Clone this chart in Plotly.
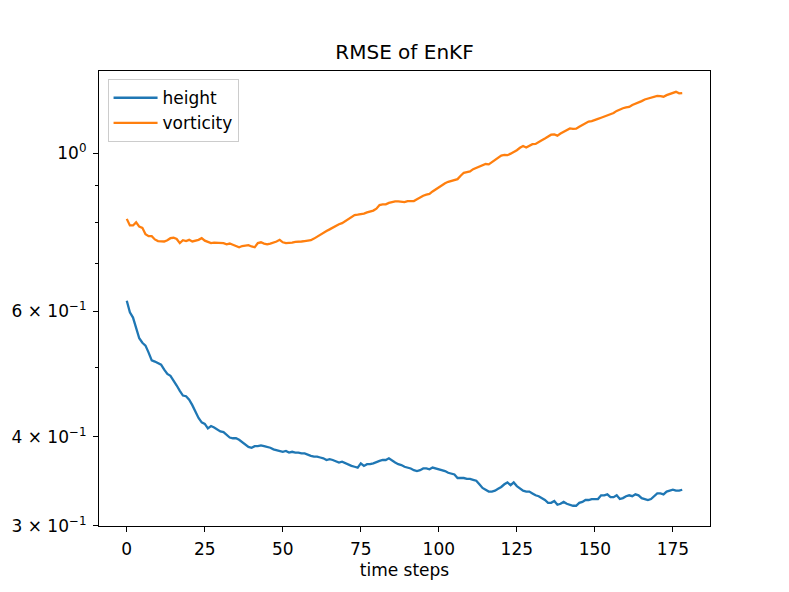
import plotly.graph_objects as go

# RMSE per time step
steps = list(range(179))

height = [
    0.621, 0.598, 0.588, 0.568, 0.550, 0.542, 0.537, 0.525, 0.512, 0.510,
    0.508, 0.505, 0.497, 0.490, 0.487, 0.480, 0.472, 0.464, 0.457, 0.456,
    0.451, 0.443, 0.434, 0.425, 0.419, 0.417, 0.411, 0.414, 0.412, 0.409,
    0.407, 0.406, 0.402, 0.399, 0.398, 0.398, 0.396, 0.393, 0.390, 0.387,
    0.386, 0.388, 0.388, 0.389, 0.388, 0.387, 0.386, 0.384, 0.383, 0.382,
    0.381, 0.382, 0.380, 0.381, 0.380, 0.380, 0.379, 0.379, 0.377, 0.376,
    0.375, 0.375, 0.374, 0.373, 0.371, 0.372, 0.371, 0.369, 0.368, 0.369,
    0.367, 0.366, 0.364, 0.363, 0.362, 0.367, 0.364, 0.366, 0.366, 0.367,
    0.369, 0.370, 0.371, 0.371, 0.373, 0.370, 0.368, 0.366, 0.365, 0.363,
    0.362, 0.361, 0.359, 0.358, 0.359, 0.361, 0.361, 0.360, 0.362, 0.361,
    0.360, 0.359, 0.358, 0.356, 0.355, 0.354, 0.350, 0.350, 0.350, 0.349,
    0.349, 0.348, 0.347, 0.343, 0.339, 0.337, 0.335, 0.335, 0.336, 0.338,
    0.340, 0.343, 0.345, 0.342, 0.345, 0.341, 0.338, 0.336, 0.335, 0.335,
    0.333, 0.331, 0.330, 0.328, 0.326, 0.323, 0.323, 0.325, 0.321, 0.322,
    0.324, 0.322, 0.321, 0.320, 0.320, 0.323, 0.324, 0.326, 0.326, 0.327,
    0.327, 0.327, 0.331, 0.331, 0.332, 0.329, 0.329, 0.331, 0.327, 0.328,
    0.330, 0.331, 0.330, 0.332, 0.331, 0.328, 0.327, 0.326, 0.327, 0.330,
    0.333, 0.333, 0.332, 0.335, 0.336, 0.337, 0.336, 0.336, 0.337,
]

vorticity = [
    0.809, 0.792, 0.792, 0.800, 0.789, 0.786, 0.770, 0.765, 0.765, 0.757,
    0.753, 0.752, 0.752, 0.755, 0.760, 0.761, 0.758, 0.748, 0.755, 0.753,
    0.756, 0.752, 0.754, 0.756, 0.760, 0.754, 0.751, 0.748, 0.749, 0.749,
    0.748, 0.748, 0.745, 0.747, 0.744, 0.740, 0.738, 0.741, 0.742, 0.743,
    0.740, 0.738, 0.748, 0.750, 0.747, 0.745, 0.747, 0.749, 0.752, 0.756,
    0.750, 0.748, 0.748, 0.749, 0.751, 0.751, 0.752, 0.753, 0.754, 0.755,
    0.759, 0.764, 0.769, 0.773, 0.778, 0.782, 0.787, 0.791, 0.795, 0.798,
    0.803, 0.808, 0.815, 0.819, 0.820, 0.821, 0.823, 0.826, 0.828, 0.831,
    0.836, 0.846, 0.848, 0.848, 0.852, 0.855, 0.856, 0.856, 0.856, 0.854,
    0.857, 0.858, 0.857, 0.862, 0.868, 0.872, 0.875, 0.877, 0.884, 0.890,
    0.897, 0.903, 0.908, 0.912, 0.915, 0.917, 0.920, 0.930, 0.939, 0.941,
    0.943, 0.950, 0.954, 0.957, 0.962, 0.966, 0.965, 0.972, 0.980, 0.987,
    0.993, 0.995, 0.994, 0.999, 1.004, 1.010, 1.018, 1.024, 1.019, 1.024,
    1.030, 1.031, 1.038, 1.043, 1.049, 1.055, 1.062, 1.063, 1.059, 1.066,
    1.072, 1.078, 1.084, 1.082, 1.083, 1.090, 1.097, 1.104, 1.108, 1.110,
    1.113, 1.118, 1.122, 1.126, 1.130, 1.134, 1.139, 1.147, 1.153, 1.157,
    1.160, 1.162, 1.169, 1.173, 1.178, 1.184, 1.190, 1.194, 1.198, 1.201,
    1.204, 1.203, 1.201, 1.207, 1.211, 1.214, 1.220, 1.214, 1.215,
]

x_ticks = [0, 25, 50, 75, 100, 125, 150, 175]
y_ticks = [0.3, 0.4, 0.6, 1.0]
y_tick_text = ["3 × 10<sup>−1</sup>", "4 × 10<sup>−1</sup>",
               "6 × 10<sup>−1</sup>", "10<sup>0</sup>"]
y_minor = [0.5, 0.7, 0.8, 0.9]

fig = go.Figure()
fig.add_trace(go.Scatter(x=steps, y=height, mode="lines", name="height",
                         line=dict(color="#1f77b4", width=2.3)))
fig.add_trace(go.Scatter(x=steps, y=vorticity, mode="lines", name="vorticity",
                         line=dict(color="#ff7f0e", width=2.3)))

axis_common = dict(
    showgrid=False, zeroline=False, showline=True, linecolor="black",
    linewidth=1.2, mirror=True, ticks="outside", ticklen=5, tickwidth=1.2,
    tickcolor="black", tickfont=dict(size=17, color="black"),
    automargin=False,
)

# page body has an 8px margin, so the figure is a bit smaller than the window
fig_w, fig_h = 781, 584

fig.update_layout(
    width=fig_w, height=fig_h,
    margin=dict(l=90.5, r=79, t=63, b=65.5),
    paper_bgcolor="white", plot_bgcolor="white",
    font=dict(family="DejaVu Sans", color="black"),
    title=dict(text="RMSE of EnKF", x=0.5, xref="paper", xanchor="center",
               y=1 - 44 / fig_h, yref="container", yanchor="middle",
               font=dict(size=20, color="black")),
    xaxis=dict(range=[-8.9, 186.9], tickvals=x_ticks, ticklabelstandoff=2,
               title=dict(text="time steps", font=dict(size=17), standoff=6),
               **axis_common),
    yaxis=dict(type="log", range=[-0.5233, 0.1156], tickvals=y_ticks,
               ticktext=y_tick_text, ticklabelstandoff=3,
               minor=dict(tickvals=y_minor, ticks="outside", ticklen=3,
                          tickcolor="black", tickwidth=1),
               **axis_common),
    legend=dict(x=0.014, y=0.982, xanchor="left", yanchor="top",
                bgcolor="rgba(255,255,255,0.8)", bordercolor="#cccccc",
                borderwidth=1, font=dict(size=17, color="black"),
                itemwidth=44, tracegroupgap=0),
    showlegend=True,
)

fig.write_html("out.html")
